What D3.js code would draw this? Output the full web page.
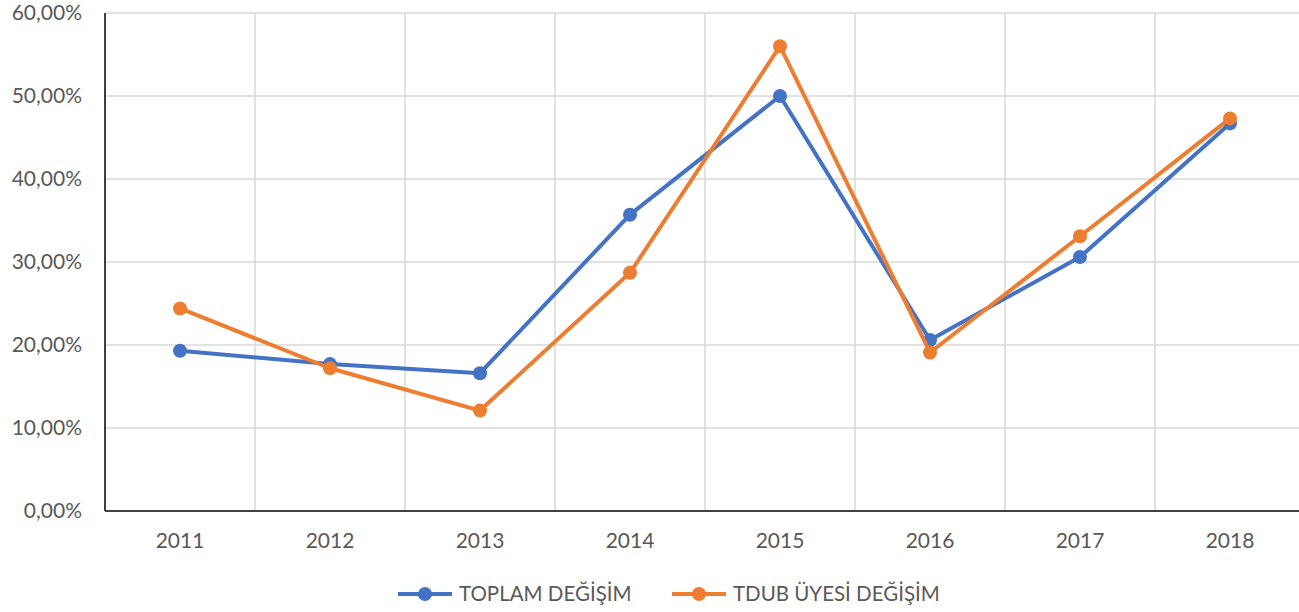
<!DOCTYPE html>
<html>
<head>
<meta charset="utf-8">
<script src="https://cdn.jsdelivr.net/npm/d3@7"></script>
<style>
  body { margin: 0; background: #fff; }
  text { font-family: Lato, "Open Sans", sans-serif; fill: #595959; }
</style>
</head>
<body>
<div class="chart"></div>
<script>
var years = ["2011", "2012", "2013", "2014", "2015", "2016", "2017", "2018"];
var toplam = [19.3, 17.7, 16.6, 35.7, 50.0, 20.6, 30.6, 46.7];
var tdub = [24.4, 17.2, 12.1, 28.7, 56.0, 19.1, 33.1, 47.3];
var yTicks = [0, 10, 20, 30, 40, 50, 60];
var seriesNames = ["TOPLAM DEĞİŞİM", "TDUB ÜYESİ DEĞİŞİM"];
var colors = ["#4472c4", "#ed7d31"];

var width = 1299,
    height = 612;

var svg = d3.select(".chart").append("svg")
    .attr("width", width)
    .attr("height", height);

var x = d3.scaleBand()
    .domain(years)
    .range([105, 1305]);

var y = d3.scaleLinear()
    .domain([0, 60])
    .range([511, 13]);

var fmt = function(d){ return d3.format(".2f")(d).replace(".", ",") + "%"; };

// horizontal grid
svg.append("g").selectAll("line")
    .data(yTicks.filter(function(d){ return d > 0; }))
    .enter().append("line")
      .attr("x1", 105).attr("x2", width)
      .attr("y1", function(d){ return y(d); })
      .attr("y2", function(d){ return y(d); })
      .style("stroke", "#d9d9d9")
      .style("stroke-width", 1.5);

// vertical grid at category boundaries
svg.append("g").selectAll("line")
    .data(years.slice(1))
    .enter().append("line")
      .attr("x1", function(d){ return x(d); })
      .attr("x2", function(d){ return x(d); })
      .attr("y1", y(60)).attr("y2", y(0))
      .style("stroke", "#d9d9d9")
      .style("stroke-width", 1.5);

// axes lines
svg.append("line")
    .attr("x1", 105).attr("x2", 105)
    .attr("y1", y(60)).attr("y2", y(0))
    .style("stroke", "#000").style("stroke-width", 1.5);
svg.append("line")
    .attr("x1", 105).attr("x2", width)
    .attr("y1", y(0)).attr("y2", y(0))
    .style("stroke", "#000").style("stroke-width", 1.5);

// y tick labels
svg.append("g").selectAll("text")
    .data(yTicks)
    .enter().append("text")
      .attr("x", 82)
      .attr("y", function(d){ return y(d); })
      .attr("dy", "0.35em")
      .style("text-anchor", "end")
      .style("font-size", "21px")
      .text(fmt);

// x tick labels
svg.append("g").selectAll("text")
    .data(years)
    .enter().append("text")
      .attr("x", function(d){ return x(d) + x.bandwidth()/2; })
      .attr("y", 548)
      .style("text-anchor", "middle")
      .style("font-size", "21px")
      .text(function(d){ return d; });

var line = d3.line()
    .x(function(d, i){ return x(years[i]) + x.bandwidth()/2; })
    .y(function(d){ return y(d); });

[toplam, tdub].forEach(function(vals, k){
  svg.append("path")
      .datum(vals)
      .attr("d", line)
      .style("fill", "none")
      .style("stroke", colors[k])
      .style("stroke-width", 4)
      .style("stroke-linejoin", "round");
  svg.append("g").selectAll("circle")
      .data(vals)
      .enter().append("circle")
        .attr("cx", function(d, i){ return x(years[i]) + x.bandwidth()/2; })
        .attr("cy", function(d){ return y(d); })
        .attr("r", 7)
        .style("fill", colors[k]);
});

// legend
var legendX = [398, 672];
var legend = svg.append("g").selectAll("g")
    .data(seriesNames)
    .enter().append("g")
      .attr("transform", function(d, i){ return "translate(" + legendX[i] + ",594)"; });
legend.append("line")
    .attr("x1", 0).attr("x2", 54)
    .style("stroke", function(d, i){ return colors[i]; })
    .style("stroke-width", 4);
legend.append("circle")
    .attr("cx", 27).attr("r", 7)
    .style("fill", function(d, i){ return colors[i]; });
legend.append("text")
    .attr("x", 61)
    .attr("dy", "0.35em")
    .style("font-size", "20.5px")
    .text(function(d){ return d; });
</script>
</body>
</html>
